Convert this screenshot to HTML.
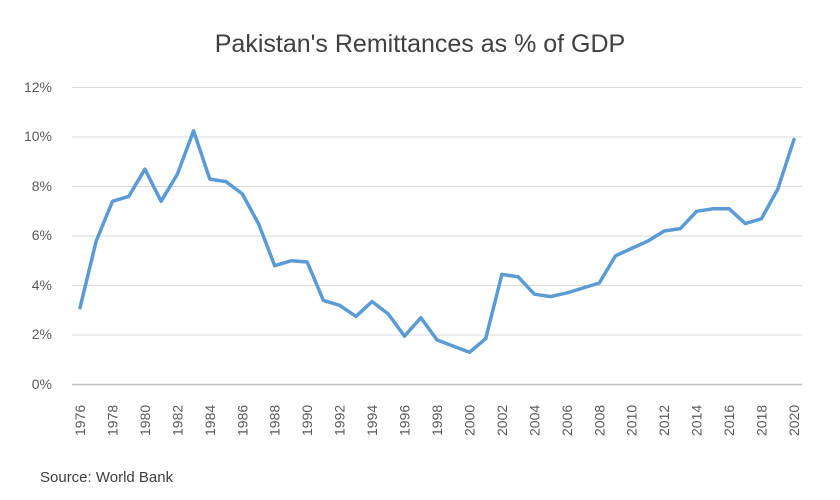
<!DOCTYPE html>
<html><head><meta charset="utf-8"><style>
body{margin:0;background:#fff;}
svg{display:block;font-family:"Liberation Sans",sans-serif;}
</style></head><body>
<svg width="840" height="500" viewBox="0 0 840 500" xmlns="http://www.w3.org/2000/svg">
<rect width="840" height="500" fill="#fff"/>
<text x="420" y="52" text-anchor="middle" font-size="25" fill="#404040">Pakistan's Remittances as % of GDP</text>
<g stroke="#d9d9d9" stroke-width="1">
<line x1="72" x2="802" y1="87.5" y2="87.5"/>
<line x1="72" x2="802" y1="137" y2="137"/>
<line x1="72" x2="802" y1="186.5" y2="186.5"/>
<line x1="72" x2="802" y1="236" y2="236"/>
<line x1="72" x2="802" y1="285.5" y2="285.5"/>
<line x1="72" x2="802" y1="335" y2="335"/>
</g>
<line x1="72" x2="802" y1="384.5" y2="384.5" stroke="#bfbfbf" stroke-width="1.5"/>
<g font-size="14" fill="#595959" text-anchor="end">
<text x="52" y="92">12%</text>
<text x="52" y="141">10%</text>
<text x="52" y="191">8%</text>
<text x="52" y="240">6%</text>
<text x="52" y="290">4%</text>
<text x="52" y="339">2%</text>
<text x="52" y="389">0%</text>
</g>
<g id="xl" font-size="14" fill="#595959"></g>
<polyline id="ln" fill="none" stroke="#5b9bd5" stroke-width="3.5" stroke-linejoin="round" stroke-linecap="round"/>
<text x="40" y="482" font-size="15" fill="#404040">Source:  World Bank</text>
</svg>
<script>
var d=[3.1,5.8,7.4,7.6,8.7,7.4,8.5,10.25,8.3,8.2,7.7,6.5,4.8,5.0,4.95,3.4,3.2,2.75,3.35,2.85,1.95,2.7,1.8,1.55,1.3,1.85,4.45,4.35,3.65,3.55,3.7,3.9,4.1,5.2,5.5,5.8,6.2,6.3,7.0,7.1,7.1,6.5,6.7,7.9,9.9];
var x0=80,dx=714/44,pts=[];
for(var i=0;i<d.length;i++){pts.push((x0+i*dx).toFixed(1)+","+(384.5-d[i]*24.75).toFixed(1));}
document.getElementById("ln").setAttribute("points",pts.join(" "));
var g=document.getElementById("xl"),s="";
for(var y=1976;y<=2020;y+=2){var x=x0+(y-1976)*dx+5;s+='<text transform="translate('+x.toFixed(1)+',436) rotate(-90)">'+y+'</text>';}
g.innerHTML=s;
</script>
</body></html>
